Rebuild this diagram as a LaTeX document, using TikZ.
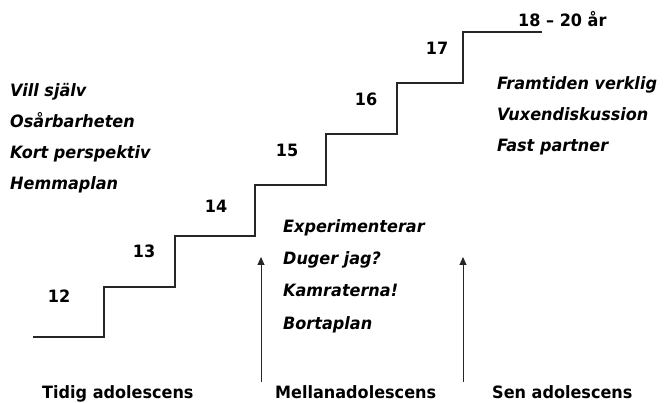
\documentclass[tikz,border=0pt]{standalone}
\usepackage{fontspec}
\setmainfont{DejaVu Sans}[FakeStretch=0.945]
\usetikzlibrary{arrows.meta}
\begin{document}
\begin{tikzpicture}[x=1pt,y=-1pt,
  numlbl/.style={font=\bfseries\fontsize{17}{20}\selectfont, anchor=base, inner sep=0pt},
  bottomlbl/.style={font=\bfseries\fontsize{17}{20}\selectfont, anchor=base west, inner sep=0pt},
  itemlbl/.style={font=\bfseries\itshape\fontsize{17}{20}\selectfont, anchor=base west, inner sep=0pt},
  stairline/.style={line width=1.2pt, black!85},
  uparrow/.style={line width=0.9pt, black!85, -{Triangle[length=8pt,width=7pt]}}]
\useasboundingbox (0,0) rectangle (664,403);
% staircase corners
\coordinate (c0) at (33,337);
\coordinate (c1) at (104,287);
\coordinate (c2) at (175,236);
\coordinate (c3) at (255,185);
\coordinate (c4) at (326,134);
\coordinate (c5) at (397,83);
\coordinate (c6) at (463,32);
\coordinate (c7) at (542,32);
\draw[stairline] (c0) -| (c1) -| (c2) -| (c3) -| (c4) -| (c5) -| (c6) -- (c7);
% step numbers
\node[numlbl] (n12) at (59,303) {12};
\node[numlbl] (n13) at (144,258) {13};
\node[numlbl] (n14) at (216,213) {14};
\node[numlbl] (n15) at (287,157) {15};
\node[numlbl] (n16) at (366,106) {16};
\node[numlbl] (n17) at (437,55) {17};
\node[bottomlbl] (n18) at (518,27) {18 – 20 år};
% left list
\node[itemlbl] (l1) at (10,97) {Vill själv};
\node[itemlbl] (l2) at (10,128) {Osårbarheten};
\node[itemlbl] (l3) at (10,159) {Kort perspektiv};
\node[itemlbl] (l4) at (10,190) {Hemmaplan};
% middle list
\node[itemlbl] (m1) at (283,233) {Experimenterar};
\node[itemlbl] (m2) at (283,265) {Duger jag?};
\node[itemlbl] (m3) at (283,297) {Kamraterna!};
\node[itemlbl] (m4) at (283,330) {Bortaplan};
% right list
\node[itemlbl] (r1) at (497,90) {Framtiden verklig};
\node[itemlbl] (r2) at (497,121) {Vuxendiskussion};
\node[itemlbl] (r3) at (497,152) {Fast partner};
% bottom labels
\node[bottomlbl] (b1) at (42,398) {Tidig adolescens};
\node[bottomlbl] (b2) at (275,398) {Mellanadolescens};
\node[bottomlbl] (b3) at (492,398) {Sen adolescens};
% arrows
\coordinate (a1s) at (261,382);
\coordinate (a1e) at (261,257);
\coordinate (a2s) at (463,382);
\coordinate (a2e) at (463,257);
\draw[uparrow] (a1s) -- (a1e);
\draw[uparrow] (a2s) -- (a2e);
\end{tikzpicture}
\end{document}
